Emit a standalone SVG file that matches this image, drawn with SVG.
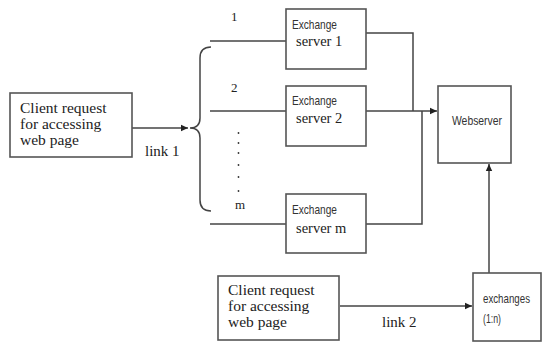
<svg xmlns="http://www.w3.org/2000/svg" width="543" height="343" viewBox="0 0 543 343">
<defs>
<style>
.box{fill:#fff;stroke:#555;stroke-width:1.6}
.ln{fill:none;stroke:#444;stroke-width:1.5}
.serif{font-family:"Liberation Serif","Times New Roman",serif;fill:#222}
.big{font-size:15.5px}
.sans{font-family:"Liberation Sans",Arial,sans-serif;fill:#333;font-size:13px}
.dot{fill:#333}
</style>
<marker id="ah" markerWidth="8" markerHeight="8" refX="7" refY="4" orient="auto" markerUnits="userSpaceOnUse">
<path d="M0,0.8 L7,4 L0,7.2 Z" fill="#222"/>
</marker>
</defs>
<rect width="543" height="343" fill="#fff"/>

<g id="connectors">
<path class="ln" d="M132,128 H188" marker-end="url(#ah)"/>
<path class="ln" d="M211,47 Q200,47 200,58 V118 Q200,128 190,128 Q200,128 200,138 V200 Q200,211 211,211"/>
<path class="ln" d="M210,41 H286"/>
<path class="ln" d="M210,111 H286"/>
<path class="ln" d="M210,224 H286"/>
<path class="ln" d="M366,33 H413 V111"/>
<path class="ln" d="M366,224 H422 V111"/>
<path class="ln" d="M366,111 H437" marker-end="url(#ah)"/>
<path class="ln" d="M489,273 V164" marker-end="url(#ah)"/>
<path class="ln" d="M340,306 H472" marker-end="url(#ah)"/>
<text class="serif" x="145" y="156" font-size="15">link 1</text>
<text class="serif" x="382" y="327" font-size="15">link 2</text>
<text class="serif" x="231" y="21" font-size="13">1</text>
<text class="serif" x="231" y="92" font-size="13">2</text>
<text class="serif" x="235" y="209" font-size="13">m</text>
<circle class="dot" cx="238.5" cy="133" r="0.9"/>
<circle class="dot" cx="238.5" cy="143" r="0.9"/>
<circle class="dot" cx="238.5" cy="153" r="0.9"/>
<circle class="dot" cx="238.5" cy="165" r="0.9"/>
<circle class="dot" cx="238.5" cy="177" r="0.9"/>
<circle class="dot" cx="238.5" cy="191" r="0.9"/>
</g>

<g id="client1">
<rect class="box" x="10" y="93" width="122" height="64"/>
<text class="serif big" x="20" y="113">Client request</text>
<text class="serif big" x="20" y="129">for accessing</text>
<text class="serif big" x="20" y="145">web page</text>
</g>

<g id="server1">
<rect class="box" x="286" y="9" width="80" height="60"/>
<text class="sans" x="292" y="29" textLength="45" lengthAdjust="spacingAndGlyphs">Exchange</text>
<text class="serif" x="296" y="46" font-size="14.5">server 1</text>
</g>

<g id="server2">
<rect class="box" x="286" y="86" width="80" height="60"/>
<text class="sans" x="292" y="105" textLength="45" lengthAdjust="spacingAndGlyphs">Exchange</text>
<text class="serif" x="296" y="123" font-size="14.5">server 2</text>
</g>

<g id="serverm">
<rect class="box" x="286" y="194" width="80" height="59"/>
<text class="sans" x="292" y="214" textLength="45" lengthAdjust="spacingAndGlyphs">Exchange</text>
<text class="serif" x="296" y="233" font-size="14.5">server m</text>
</g>

<g id="webserver">
<rect class="box" x="438" y="86" width="73" height="77"/>
<text class="sans" x="452" y="125" textLength="50" lengthAdjust="spacingAndGlyphs">Webserver</text>
</g>

<g id="client2">
<rect class="box" x="218" y="276" width="121" height="64"/>
<text class="serif big" x="228" y="295">Client request</text>
<text class="serif big" x="228" y="311">for accessing</text>
<text class="serif big" x="228" y="327">web page</text>
</g>

<g id="exchanges">
<rect class="box" x="473" y="273" width="68" height="68"/>
<text class="sans" x="483" y="303" font-size="12" textLength="47" lengthAdjust="spacingAndGlyphs">exchanges</text>
<text class="sans" x="483" y="323" font-size="12" textLength="18" lengthAdjust="spacingAndGlyphs">(1:n)</text>
</g>
</svg>
